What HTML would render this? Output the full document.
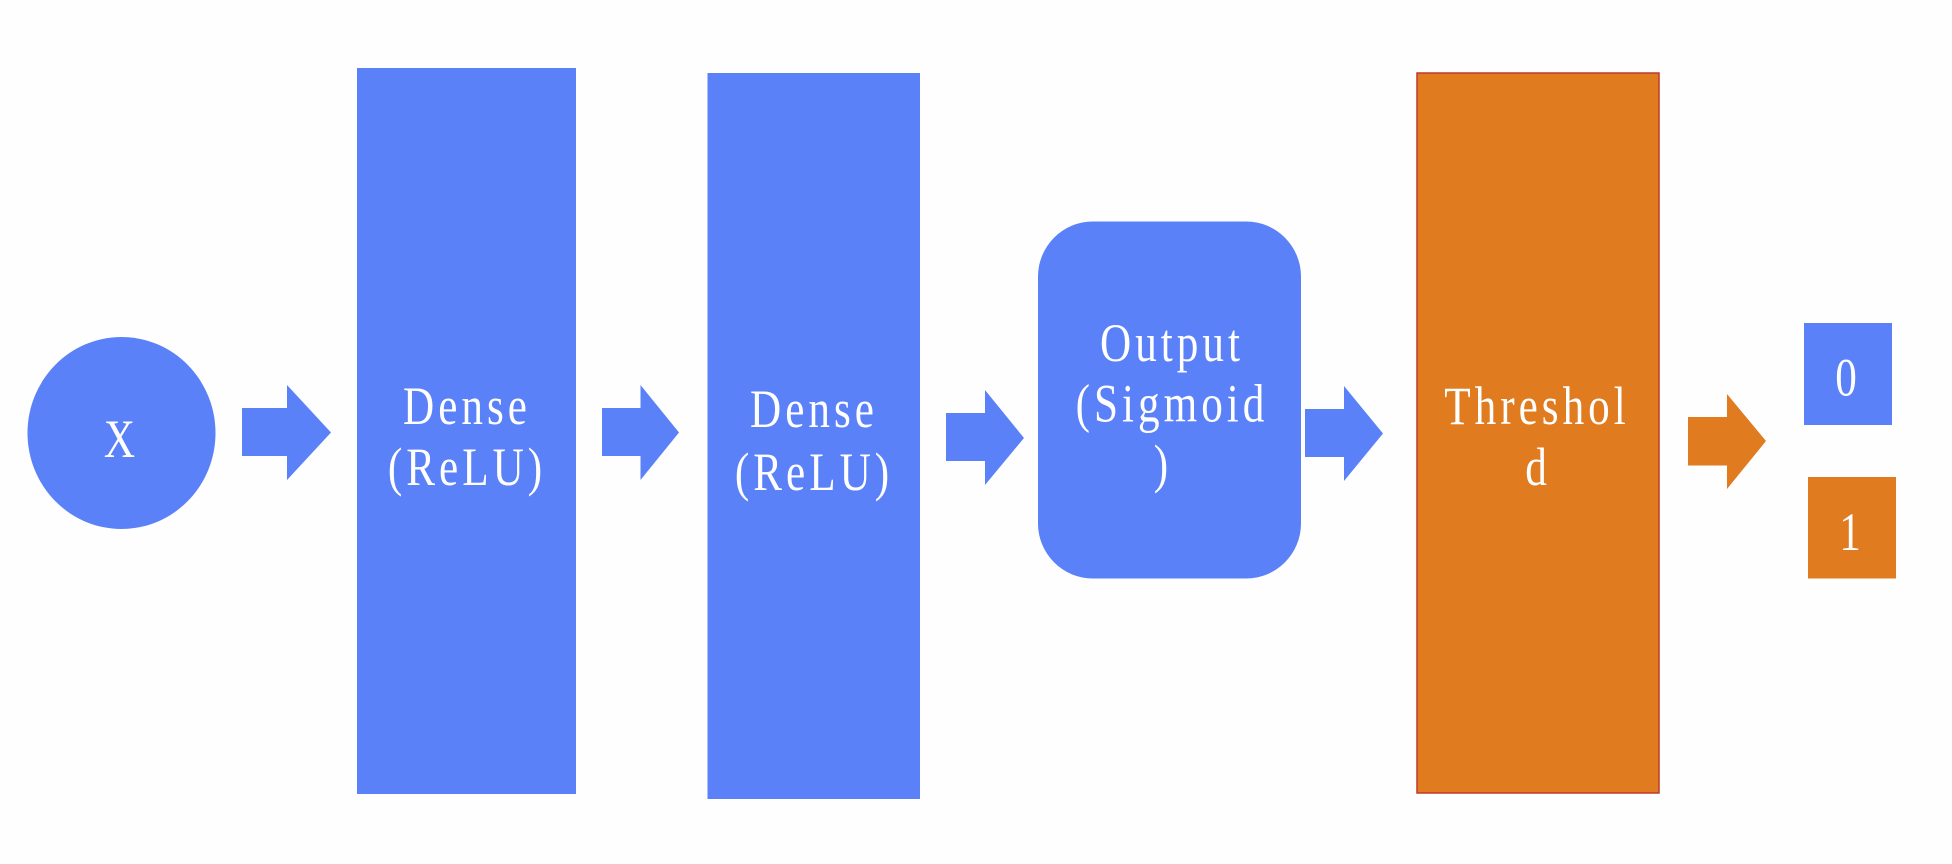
<!DOCTYPE html>
<html><head><meta charset="utf-8"><style>
html,body{margin:0;padding:0;background:#fff;}
svg{display:block;}
text{font-family:"Liberation Serif",serif;fill:#fff;font-size:54px;text-anchor:middle;letter-spacing:5px;}
</style></head><body>
<svg width="1952" height="864" viewBox="0 0 1952 864" xmlns="http://www.w3.org/2000/svg">
<rect width="1952" height="864" fill="#fefefe"/>
<g fill="#5b81f9">
<ellipse cx="121.5" cy="433" rx="94" ry="96"/>
<polygon points="242,408 287,408 287,385 331,432.5 287,480 287,456 242,456"/>
<rect x="357" y="68" width="219" height="726"/>
<polygon points="602,408 640.5,408 640.5,385 679,432.5 640.5,480 640.5,456 602,456"/>
<rect x="707.5" y="73" width="212.5" height="726"/>
<polygon points="946,413 985,413 985,390 1024,438 985,485 985,461 946,461"/>
<rect x="1038" y="221.5" width="263" height="357" rx="55" ry="55"/>
<polygon points="1305,409 1344,409 1344,386 1383,433.5 1344,481 1344,457 1305,457"/>
<rect x="1804" y="323" width="88" height="102"/>
</g>
<rect x="1417" y="73" width="242" height="720" fill="#e07b1f" stroke="#c0392b" stroke-width="1.5"/>
<polygon points="1688,417 1727,417 1727,394 1766,441 1727,489 1727,465.5 1688,465.5" fill="#e07b1f"/>
<rect x="1808" y="477" width="88" height="101.5" fill="#e07b1f"/>
<text transform="translate(121.5,457) scale(0.8,1)">X</text>
<text transform="translate(467,424) scale(0.8,1)">Dense</text>
<text transform="translate(467,485) scale(0.8,1)">(ReLU)</text>
<text transform="translate(814,427) scale(0.8,1)">Dense</text>
<text transform="translate(814,490) scale(0.8,1)">(ReLU)</text>
<text transform="translate(1172,361) scale(0.8,1)">Output</text>
<text transform="translate(1172,421.5) scale(0.8,1)">(Sigmoid</text>
<text transform="translate(1163,482) scale(0.8,1)">)</text>
<text transform="translate(1537,424) scale(0.8,1)">Threshol</text>
<text transform="translate(1538,485) scale(0.8,1)">d</text>
<text transform="translate(1848,395.5) scale(0.8,1)">0</text>
<text transform="translate(1852,550) scale(0.8,1)">1</text>
</svg>
</body></html>
